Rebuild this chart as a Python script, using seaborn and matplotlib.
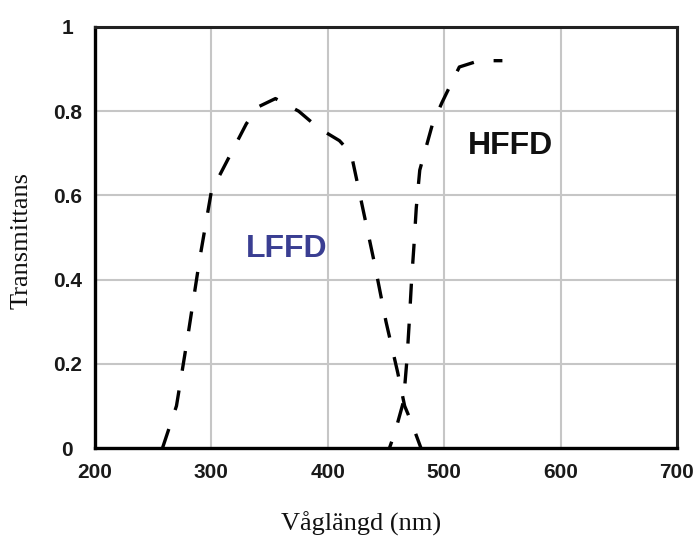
import matplotlib
matplotlib.use("Agg")
import matplotlib.pyplot as plt
import seaborn as sns
import pandas as pd

# Data
lffd_x = [258, 270, 280, 290, 300, 315, 330, 340, 355, 375, 392, 410, 420, 430, 440, 450, 460, 466, 472, 480]
lffd_y = [0.0, 0.10, 0.27, 0.45, 0.61, 0.69, 0.77, 0.81, 0.83, 0.80, 0.76, 0.73, 0.70, 0.57, 0.44, 0.30, 0.18, 0.10, 0.06, 0.0]
hffd_x = [453, 458, 465, 468, 470, 472, 474, 476, 479, 484, 490, 498, 505, 513, 530, 550]
hffd_y = [0.0, 0.04, 0.11, 0.21, 0.30, 0.40, 0.48, 0.57, 0.66, 0.71, 0.77, 0.82, 0.86, 0.905, 0.92, 0.92]
x_ticks = [200, 300, 400, 500, 600, 700]
y_ticks = [0, 0.2, 0.4, 0.6, 0.8, 1.0]
y_tick_labels = ["0", "0.2", "0.4", "0.6", "0.8", "1"]
x_label = "Våglängd (nm)"
y_label = "Transmittans"

sns.set_theme(style="white")
plt.rcParams['font.family'] = ['Liberation Sans', 'DejaVu Sans']

fig = plt.figure(figsize=(6.98, 5.38), dpi=100)
ax = fig.add_axes([95/698, 90/538, 582/698, 421/538])

df_l = pd.DataFrame({"x": lffd_x, "y": lffd_y})
df_h = pd.DataFrame({"x": hffd_x, "y": hffd_y})
sns.lineplot(data=df_l, x="x", y="y", ax=ax, color="black", lw=2.4, sort=False, estimator=None)
sns.lineplot(data=df_h, x="x", y="y", ax=ax, color="black", lw=2.4, sort=False, estimator=None)
ax.lines[0].set_linestyle((0, (6, 6)))
ax.lines[1].set_linestyle((4, (6, 6)))

ax.set_xlim(200, 700)
ax.set_ylim(0, 1)
ax.set_xticks(x_ticks)
ax.set_yticks(y_ticks)
ax.set_yticklabels(y_tick_labels)
ax.grid(True, color="#c6c6c6", lw=1.5)
ax.set_axisbelow(True)
for s in ["left", "bottom"]:
    ax.spines[s].set_color("black")
    ax.spines[s].set_linewidth(2.4)
for s in ["top", "right"]:
    ax.spines[s].set_color("#222222")
    ax.spines[s].set_linewidth(2.2)

ax.tick_params(axis="x", length=0, pad=11, labelsize=15, labelcolor="#1a1a1a")
ax.tick_params(axis="y", length=0, pad=20, labelsize=15, labelcolor="#1a1a1a")
for t in ax.get_xticklabels() + ax.get_yticklabels():
    t.set_fontweight("bold")
for t in ax.get_yticklabels():
    t.set_horizontalalignment("center")

ax.set_xlabel(x_label, family="Liberation Serif", fontsize=19, color="#111111")
ax.set_ylabel(y_label, family="Liberation Serif", fontsize=19, color="#111111")
ax.xaxis.set_label_coords(0.457, -0.152)
ax.yaxis.set_label_coords(-0.107, 0.494)

ax.text(365, 0.473, "LFFD", fontsize=23, fontweight="bold", color="#3a3e92",
        ha="center", va="center")
ax.text(557, 0.717, "HFFD", fontsize=23, fontweight="bold", color="#111111",
        ha="center", va="center")

fig.savefig("out.png", dpi=100)
